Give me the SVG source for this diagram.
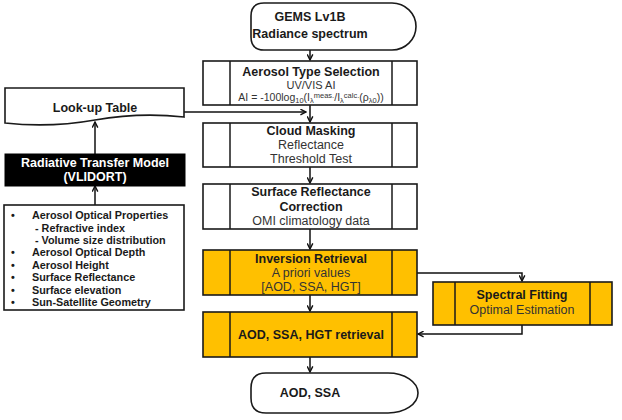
<svg xmlns="http://www.w3.org/2000/svg" width="622" height="420" viewBox="0 0 622 420">
<defs>
<marker id="ah" viewBox="0 0 10 10" refX="9" refY="5" markerWidth="7" markerHeight="7" orient="auto" markerUnits="userSpaceOnUse">
<path d="M1,1 L9,5 L1,9" fill="none" stroke="#111" stroke-width="2"/>
</marker>
<style>
.t{font-family:"Liberation Sans",Arial,sans-serif;text-anchor:middle;fill:#1a1a1a}
.b{font-weight:bold;font-size:12.5px}
.n{font-size:12.5px;fill:#333}
.s{font-size:10.5px;fill:#333}
.l{font-family:"Liberation Sans",Arial,sans-serif;font-weight:bold;font-size:10.8px;fill:#1a1a1a}
.box{fill:#fff;stroke:#1a1a1a;stroke-width:1.6}
.ybox{fill:#FFC000;stroke:#1a1a1a;stroke-width:1.6}
.ln{fill:none;stroke:#1a1a1a;stroke-width:1.5}
.conn{fill:none;stroke:#111;stroke-width:1.5}
</style>
</defs>
<rect width="622" height="420" fill="#fff"/>

<g id="connectors">
<path class="conn" d="M310,50 V60" marker-end="url(#ah)"/>
<path class="conn" d="M310,105 V122" marker-end="url(#ah)"/>
<path class="conn" d="M184,112 H306" marker-end="url(#ah)"/>
<path class="conn" d="M310,167 V183" marker-end="url(#ah)"/>
<path class="conn" d="M310,229 V249" marker-end="url(#ah)"/>
<path class="conn" d="M310,295 V311" marker-end="url(#ah)"/>
<path class="conn" d="M310,357 V372" marker-end="url(#ah)"/>
<path class="conn" d="M417,273 H522 V281" marker-end="url(#ah)"/>
<path class="conn" d="M522,325 V334 H418" marker-end="url(#ah)"/>
<path class="conn" d="M95,154 V122" marker-end="url(#ah)"/>
<path class="conn" d="M95,205 V186" marker-end="url(#ah)"/>
</g>

<g id="gems">
<path class="box" d="M264,3 H392 A24,23.5 0 0 1 392,50 H264 Q251,50 251,37 V16 Q251,3 264,3 Z"/>
<text class="t b" x="310" y="21">GEMS Lv1B</text>
<text class="t b" x="310" y="38">Radiance spectrum</text>
</g>

<g id="aerosol-type">
<rect class="box" x="203" y="61" width="214" height="44"/>
<path class="ln" d="M230,61 V105 M392,61 V105"/>
<text class="t b" x="311" y="76">Aerosol Type Selection</text>
<text class="t n" x="311" y="89" style="font-size:11px">UV/VIS AI</text>
<text class="t s" x="311" y="101">AI = -100log<tspan font-size="7.5" dy="2">10</tspan><tspan dy="-2">(I</tspan><tspan font-size="7.5" dy="2">λ</tspan><tspan font-size="7.5" dy="-5">meas.</tspan><tspan dy="3">/I</tspan><tspan font-size="7.5" dy="2">λ</tspan><tspan font-size="7.5" dy="-5">calc.</tspan><tspan dy="3">(ρ</tspan><tspan font-size="7.5" dy="2">λ0</tspan><tspan dy="-2">))</tspan></text>
</g>

<g id="cloud">
<rect class="box" x="203" y="123" width="214" height="44"/>
<path class="ln" d="M230,123 V167 M392,123 V167"/>
<text class="t b" x="311" y="135">Cloud Masking</text>
<text class="t n" x="311" y="149">Reflectance</text>
<text class="t n" x="311" y="163">Threshold Test</text>
</g>

<g id="surface">
<rect class="box" x="203" y="184" width="214" height="45"/>
<path class="ln" d="M230,184 V229 M392,184 V229"/>
<text class="t b" x="311" y="196">Surface Reflectance</text>
<text class="t b" x="311" y="211">Correction</text>
<text class="t n" x="311" y="225">OMI climatology data</text>
</g>

<g id="inversion">
<rect class="ybox" x="203" y="250" width="214" height="45"/>
<path class="ln" d="M230,250 V295 M392,250 V295"/>
<text class="t b" x="311" y="263">Inversion Retrieval</text>
<text class="t n" x="311" y="277">A priori values</text>
<text class="t n" x="311" y="291">[AOD, SSA, HGT]</text>
</g>

<g id="retrieval">
<rect class="ybox" x="203" y="312" width="214" height="45"/>
<path class="ln" d="M230,312 V357 M392,312 V357"/>
<text class="t b" x="311" y="339">AOD, SSA, HGT retrieval</text>
</g>

<g id="spectral">
<rect class="ybox" x="433" y="282" width="179" height="43"/>
<path class="ln" d="M455,282 V325 M590,282 V325"/>
<text class="t b" x="522" y="299">Spectral Fitting</text>
<text class="t n" x="522" y="314">Optimal Estimation</text>
</g>

<g id="aod-ssa">
<path class="box" d="M266,373 H388 A30,20 0 0 1 388,413 H266 Q251,413 251,398 V388 Q251,373 266,373 Z"/>
<text class="t b" x="310" y="397">AOD, SSA</text>
</g>

<g id="lut">
<path class="box" d="M5,88 H184 V117 Q140,112 95,120 T5,123 Z"/>
<text class="t b" x="95" y="112">Look-up Table</text>
</g>

<g id="rtm">
<rect x="5" y="154" width="180" height="32" fill="#000" stroke="#000"/>
<text class="t b" x="95" y="167" style="fill:#fff">Radiative Transfer Model</text>
<text class="t b" x="95" y="181" style="fill:#fff">(VLIDORT)</text>
</g>

<g id="inputs">
<rect class="box" x="4" y="205" width="180" height="105"/>
<g class="l">
<text x="11" y="219">•</text><text x="32" y="219">Aerosol Optical Properties</text>
<text x="35" y="232">- Refractive index</text>
<text x="35" y="244">- Volume size distribution</text>
<text x="11" y="256">•</text><text x="32" y="256">Aerosol Optical Depth</text>
<text x="11" y="269">•</text><text x="32" y="269">Aerosol Height</text>
<text x="11" y="281">•</text><text x="32" y="281">Surface Reflectance</text>
<text x="11" y="294">•</text><text x="32" y="294">Surface elevation</text>
<text x="11" y="306">•</text><text x="32" y="306">Sun-Satellite Geometry</text>
</g>
</g>
</svg>
